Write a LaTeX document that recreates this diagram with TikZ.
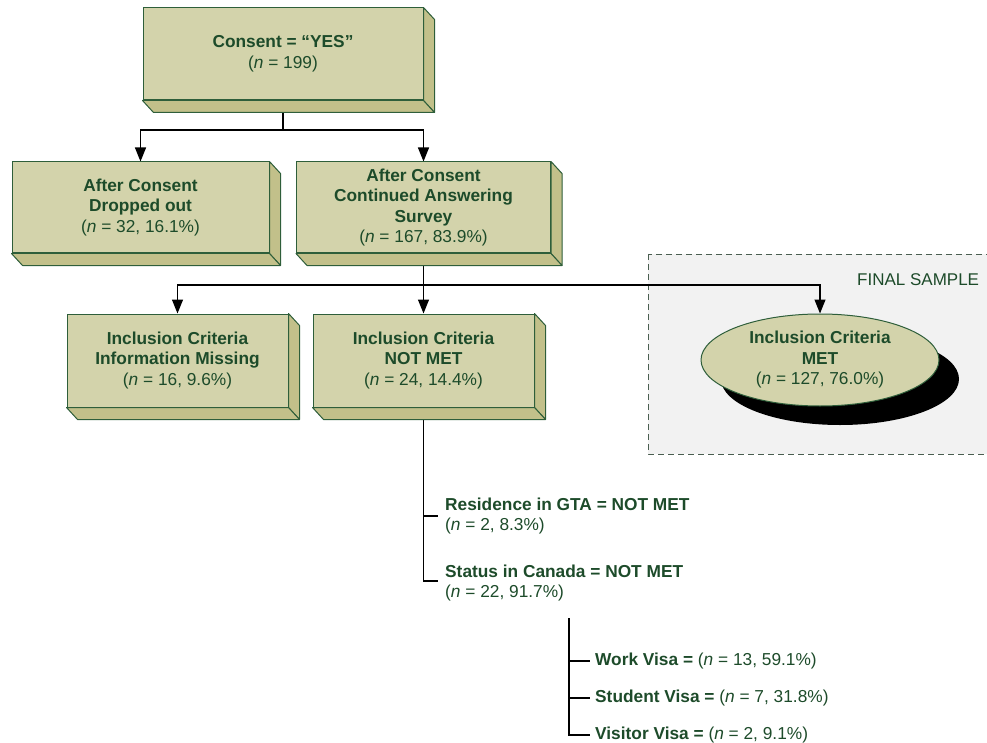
\documentclass[tikz,border=0pt]{standalone}
\usepackage{fontspec}
\setmainfont{Liberation Sans}
\usetikzlibrary{arrows.meta,shapes.geometric}
\definecolor{frontc}{HTML}{D3D3AB}
\definecolor{sidec}{HTML}{C2C08A}
\definecolor{edgec}{HTML}{2E5E3A}
\definecolor{txtc}{HTML}{1D4B2A}
\definecolor{panelc}{HTML}{F2F2F2}
\definecolor{paneledge}{HTML}{4A5E50}
\pgfdeclarelayer{back}
\pgfdeclarelayer{wires}
\pgfsetlayers{back,wires,main}
\newcommand\cnt[1]{{\mdseries(\textit{n} = #1)}}
\newcommand\boxfaces[1]{%
  \filldraw[fill=sidec,draw=edgec,line width=1pt,line join=round]
    (#1.north east) -- ++(11,12) -- ([shift={(11,12)}]#1.south east) -- (#1.south east) -- cycle;
  \filldraw[fill=sidec,draw=edgec,line width=1pt,line join=round]
    (#1.south west) -- (#1.south east) -- ([shift={(11,12)}]#1.south east) -- ([shift={(11,12)}]#1.south west) -- cycle;
}
\begin{document}
\begin{tikzpicture}[x=1pt,y=-1pt,
  font={\fontsize{17.3}{20.5}\selectfont\bfseries},
  cube/.style={draw=edgec, fill=frontc, line width=1pt, inner sep=0pt, align=center, text=txtc},
  oval/.style={ellipse, draw=edgec, fill=frontc, line width=1pt, inner sep=0pt, align=center, text=txtc,
    minimum width=238pt, minimum height=92pt},
  lbl/.style={inner sep=0pt, anchor=west, align=left, text=txtc},
  wire/.style={line width=1.2pt, black},
  arr/.style={wire, -{Triangle[length=14pt,width=11pt]}}]
\useasboundingbox (0,0) rectangle (987,743);

% final sample panel
\begin{pgfonlayer}{back}
  \filldraw[fill=panelc, draw=paneledge, line width=0.9pt, dash pattern=on 6pt off 4pt] (648,254) rectangle (1000,454);
\end{pgfonlayer}
\node[lbl, font={\fontsize{17}{20.5}\selectfont\mdseries}] (fs) at (857,280) {FINAL SAMPLE};

% boxes
\node[cube, minimum width=280pt, minimum height=92pt] (b1) at (283,54)
  {Consent = “YES”\\\cnt{199}};
\boxfaces{b1}
\node[cube, minimum width=257pt, minimum height=91pt] (b2) at (140.5,207.5)
  {After Consent\\Dropped out\\\cnt{32, 16.1\%}};
\boxfaces{b2}
\node[cube, minimum width=254pt, minimum height=91pt] (b3) at (423.5,207.5)
  {After Consent\\Continued Answering\\Survey\\\cnt{167, 83.9\%}};
\boxfaces{b3}
\node[cube, minimum width=221pt, minimum height=93pt] (b4) at (177.5,360.5)
  {Inclusion Criteria\\Information Missing\\\cnt{16, 9.6\%}};
\boxfaces{b4}
\node[cube, minimum width=221pt, minimum height=93pt] (b5) at (423.5,360.5)
  {Inclusion Criteria\\NOT MET\\\cnt{24, 14.4\%}};
\boxfaces{b5}

% ellipse with shadow
\fill[black] (840,379) ellipse [x radius=119, y radius=46];
\node[oval] (met) at (820,360) {Inclusion Criteria\\MET\\\cnt{127, 76.0\%}};

% lower labels
\node[lbl] (res) at (445,516) {Residence in GTA = NOT MET\\\cnt{2, 8.3\%}};
\node[lbl] (stat) at (445,583) {Status in Canada = NOT MET\\\cnt{22, 91.7\%}};
\node[lbl] (work) at (595,661) {Work Visa = \cnt{13, 59.1\%}};
\node[lbl] (stud) at (595,698) {Student Visa = \cnt{7, 31.8\%}};
\node[lbl] (visi) at (595,735) {Visitor Visa = \cnt{2, 9.1\%}};

% connectors
\begin{pgfonlayer}{wires}
  \coordinate (j1) at (283,130);
  \draw[arr] (b1.south) -- (j1) -| (b2.north);
  \draw[arr] (j1) -| (b3.north);
  \coordinate (j2) at (423.5,285);
  \draw[arr] (b3.south) -- (j2) -| (b4.north);
  \draw[arr] (j2) -- (b5.north);
  \draw[arr] (j2) -| (met.north);
  \draw[wire] (b5.south) |- ([xshift=-7pt]res.west);
  \draw[wire] (b5.south) |- ([xshift=-7pt,yshift=2pt]stat.west);
  \coordinate (vtop) at (569,618);
  \draw[wire] (vtop) |- ([xshift=-5pt]work.west);
  \draw[wire] (vtop) |- ([xshift=-5pt]stud.west);
  \draw[wire] (vtop) |- ([xshift=-5pt]visi.west);
\end{pgfonlayer}
\end{tikzpicture}
\end{document}
